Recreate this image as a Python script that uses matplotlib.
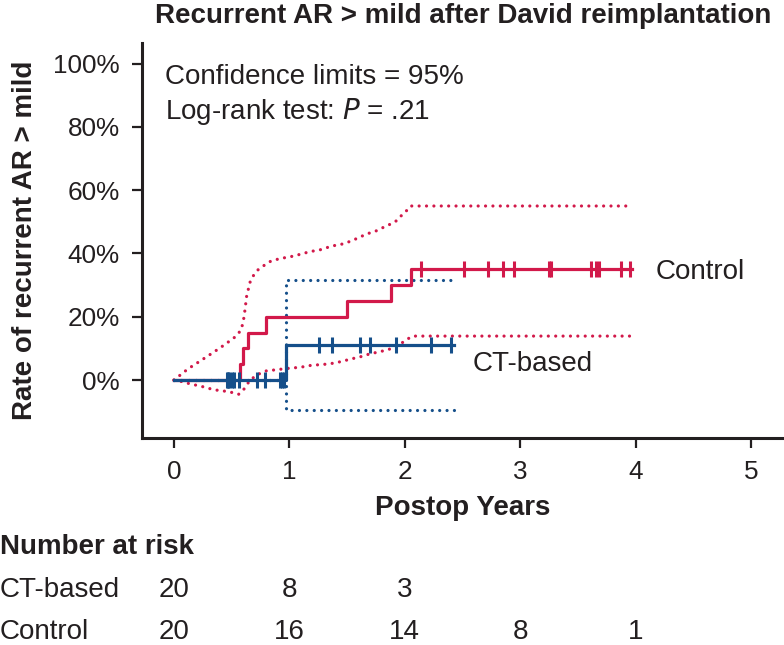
import numpy as np
import matplotlib
matplotlib.use("Agg")
import matplotlib.pyplot as plt
import matplotlib.transforms as mtrans

plt.rcParams['font.family'] = ['Liberation Sans', 'DejaVu Sans']

RED = '#D2194A'
BLUE = '#154F8A'
INK = '#231F20'

# Control: Kaplan-Meier steps (years, %)
ctrl_t = [0, 0.57, 0.60, 0.64, 0.80, 1.50, 1.88, 2.05, 3.97]
ctrl_r = [0, 5, 10, 15, 20, 25, 30, 35, 35]
ctrl_cens = [2.14, 2.51, 2.72, 2.85, 2.95, 3.25, 3.27, 3.61, 3.66, 3.68, 3.87, 3.95]

# Control 95% limits
ctrl_hi_t = [0, 0.12, 0.23, 0.335, 0.44, 0.54, 0.58, 0.60, 0.615, 0.63, 0.66, 0.69,
             0.73, 0.78, 0.84, 0.90, 0.965, 1.025, 1.09, 1.15, 1.21, 1.27, 1.33,
             1.39, 1.45, 1.51, 1.57, 1.63, 1.69, 1.75, 1.80, 1.86, 1.92, 1.96,
             2.01, 2.05, 3.97]
ctrl_hi = [0, 3.5, 6.1, 8.6, 11.2, 13.9, 15.8, 18.3, 22.1, 26.6, 31.0, 33.1,
           34.9, 36.2, 37.6, 38.2, 38.7, 39.1, 39.7, 40.3, 40.8, 41.2, 41.9,
           42.5, 42.9, 43.6, 44.5, 45.5, 46.4, 47.1, 48.0, 49.0, 50.1, 51.6,
           53.3, 55.0, 55.0]
ctrl_lo_t = [0, 0.07, 0.13, 0.19, 0.25, 0.31, 0.375, 0.44, 0.50, 0.56, 0.60,
             0.635, 0.66, 0.70, 0.745, 0.80, 0.87, 0.99, 1.05, 1.12, 1.18, 1.24,
             1.31, 1.375, 1.43, 1.55, 1.63, 1.69, 1.81, 1.87, 1.97, 2.02, 2.07, 3.97]
ctrl_lo = [0, -0.5, -1.1, -1.6, -2.1, -2.7, -3.2, -3.5, -3.9, -4.5, -3.2,
           -1.3, 0.0, 1.1, 2.1, 2.9, 3.2, 3.7, 3.9, 4.2, 4.6, 4.8,
           5.0, 5.3, 5.7, 6.8, 7.5, 8.2, 9.2, 9.8, 11.6, 12.9, 13.9, 13.9]

# CT-based
ct_t = [0, 0.97, 2.43]
ct_r = [0, 11.1, 11.1]
ct_hi = [0, 31.6, 31.6]
ct_lo = [0, -9.5, -9.5]
ct_cens_low = [0.46, 0.47, 0.48, 0.50, 0.52, 0.56, 0.72, 0.79, 0.92, 0.94, 0.95]
ct_cens_up = [1.26, 1.37, 1.61, 1.70, 1.92, 2.23, 2.40]

# number at risk
risk_years = [0, 1, 2, 3, 4]
risk_ct = [20, 8, 3]
risk_ctrl = [20, 16, 14, 8, 1]

FS = 20

fig = plt.figure(figsize=(7.84, 6.45), dpi=100)
ax = fig.add_axes([142/784, 1-438/645, 642/784, 395/645])

dots = dict(linestyle=(0, (0.01, 2.3)), lw=2.3, dash_capstyle='round')
ax.plot(ctrl_hi_t, ctrl_hi, color=RED, **dots)
ax.plot(ctrl_lo_t, ctrl_lo, color=RED, **dots)
ax.plot(ct_t, ct_hi, color=BLUE, drawstyle='steps-post', **dots)
ax.plot(ct_t, ct_lo, color=BLUE, drawstyle='steps-post', **dots)

ax.plot(ctrl_t, ctrl_r, color=RED, lw=2.3, drawstyle='steps-post')
ax.plot(ct_t, ct_r, color=BLUE, lw=2.3, drawstyle='steps-post')

ax.plot(ctrl_cens, [ctrl_r[-1]]*len(ctrl_cens), ls='none', marker='|',
        ms=11, mew=2.2, color=RED)
ax.plot(ct_cens_low, [0]*len(ct_cens_low), ls='none', marker='|',
        ms=11, mew=2.2, color=BLUE)
ax.plot(ct_cens_up, [ct_r[-1]]*len(ct_cens_up), ls='none', marker='|',
        ms=11, mew=2.2, color=BLUE)

ax.set_xlim(-0.277, 5.286)
ax.set_ylim(-18.3, 106.5)
ax.set_xticks(range(6))
ax.set_yticks(range(0, 101, 20))
ax.set_yticklabels([f'{v}%' for v in range(0, 101, 20)])
for s in ['top', 'right']:
    ax.spines[s].set_visible(False)
for s in ['left', 'bottom']:
    ax.spines[s].set_linewidth(2.2)
    ax.spines[s].set_color(INK)
ax.tick_params(length=7, width=1.6, color=INK, labelsize=18.8, labelcolor=INK)
ax.tick_params(axis='y', pad=9)
ax.tick_params(axis='x', pad=9)

ax.set_xlabel('Postop Years', fontsize=FS, fontweight='bold', color=INK, labelpad=8)
ax.set_ylabel('Rate of recurrent AR > mild', fontsize=FS, fontweight='bold',
              color=INK, labelpad=11)
fig.text(463/784, 1-16/645, 'Recurrent AR > mild after David reimplantation',
         ha='center', va='center', fontsize=FS, fontweight='bold', color=INK)

ax.text(0.036, 0.915, 'Confidence limits = 95%', transform=ax.transAxes,
        fontsize=FS, color=INK, va='center')
ax.text(0.036, 0.826, 'Log-rank test: $\\mathit{P}$ = .21', transform=ax.transAxes,
        fontsize=FS, color=INK, va='center')
ax.text(4.17, 34.0, 'Control', fontsize=FS, color=INK, va='center')
ax.text(2.59, 5.0, 'CT-based', fontsize=FS, color=INK, va='center')

# number at risk table
fig.text(0, 1-547/645, 'Number at risk', fontsize=FS, fontweight='bold',
         color=INK, va='center')
fig.text(0, 1-590/645, 'CT-based', fontsize=FS, color=INK, va='center')
fig.text(0, 1-632/645, 'Control', fontsize=FS, color=INK, va='center')
tr = mtrans.blended_transform_factory(ax.transData, fig.transFigure)
for x, n in zip(risk_years, risk_ct):
    ax.text(x, 1-590/645, str(n), transform=tr, ha='center', va='center',
            fontsize=FS, color=INK, clip_on=False)
for x, n in zip(risk_years, risk_ctrl):
    ax.text(x, 1-632/645, str(n), transform=tr, ha='center', va='center',
            fontsize=FS, color=INK, clip_on=False)

fig.savefig('out.png', dpi=100)
